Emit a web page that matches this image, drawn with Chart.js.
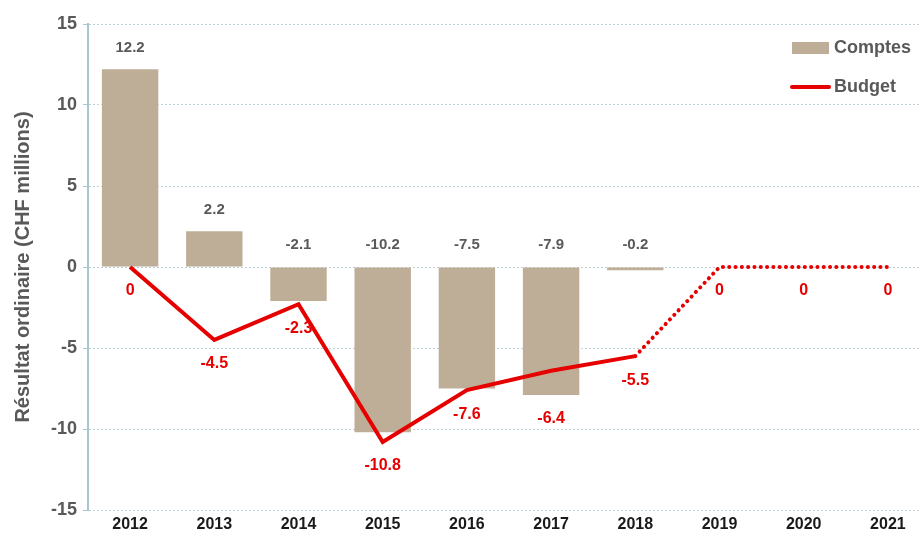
<!DOCTYPE html>
<html>
<head>
<meta charset="utf-8">
<script src="https://cdn.jsdelivr.net/npm/chart.js@4/dist/chart.umd.min.js"></script>
<style>
  html, body { margin: 0; padding: 0; background: #fff; overflow: hidden; }
  #wrap { width: 930px; height: 538px; }
</style>
</head>
<body>
<div id="wrap"><canvas id="chart" width="930" height="538"></canvas></div>
<script>
const years = ['2012', '2013', '2014', '2015', '2016', '2017', '2018', '2019', '2020', '2021'];
const comptes = [12.2, 2.2, -2.1, -10.2, -7.5, -7.9, -0.2, null, null, null];
const budget = [0, -4.5, -2.3, -10.8, -7.6, -6.4, -5.5, 0, 0, 0];
const yTicks = [-15, -10, -5, 0, 5, 10, 15];

const tan = '#bfae97';
const red = '#e60000';
const grey = '#595959';
const axisBlue = '#a9c5d0';
const font = '"Liberation Sans", Arial, sans-serif';

// etiquettes des valeurs (barres en gris, budget en rouge)
const labelsPlugin = {
    id: 'valueLabels',
    afterDatasetsDraw(chart) {
        const ctx = chart.ctx;
        const y = chart.scales.y;
        ctx.save();
        ctx.textAlign = 'center';
        ctx.textBaseline = 'middle';

        ctx.font = 'bold 15px ' + font;
        ctx.fillStyle = grey;
        chart.getDatasetMeta(0).data.forEach((bar, i) => {
            const v = comptes[i];
            if (v === null) return;
            const top = y.getPixelForValue(Math.max(v, 0));
            ctx.fillText(v.toFixed(1), bar.x, top - 22);
        });

        // sous le point ou sous la barre, selon ce qui descend le plus bas
        ctx.font = 'bold 16px ' + font;
        ctx.fillStyle = red;
        chart.getDatasetMeta(1).data.forEach((pt, i) => {
            const v = budget[i];
            const c = comptes[i] === null ? 0 : Math.min(comptes[i], 0);
            const low = y.getPixelForValue(Math.min(v, c));
            ctx.fillText(v === 0 ? '0' : v.toFixed(1), pt.x, low + 24);
        });
        ctx.restore();
    }
};

// légende en haut à droite
const legendPlugin = {
    id: 'cornerLegend',
    afterDraw(chart) {
        const ctx = chart.ctx;
        ctx.save();
        ctx.fillStyle = tan;
        ctx.fillRect(792, 42, 37, 12);
        ctx.strokeStyle = red;
        ctx.lineWidth = 4;
        ctx.lineCap = 'round';
        ctx.beginPath();
        ctx.moveTo(792, 87);
        ctx.lineTo(829, 87);
        ctx.stroke();
        ctx.font = 'bold 18px ' + font;
        ctx.fillStyle = grey;
        ctx.textAlign = 'left';
        ctx.textBaseline = 'middle';
        ctx.fillText('Comptes', 834, 48);
        ctx.fillText('Budget', 834, 87);
        ctx.restore();
    }
};

new Chart(document.getElementById('chart'), {
    data: {
        labels: years,
        datasets: [
            {
                type: 'bar',
                label: 'Comptes',
                data: comptes,
                backgroundColor: tan,
                barPercentage: 0.67,
                categoryPercentage: 1,
                order: 2
            },
            {
                type: 'line',
                label: 'Budget',
                data: budget,
                borderColor: red,
                borderWidth: 4,
                pointRadius: 0,
                tension: 0,
                borderJoinStyle: 'miter',
                order: 1,
                segment: {
                    borderDash: c => c.p0DataIndex >= 6 ? [0.1, 6.2] : undefined,
                    borderCapStyle: c => c.p0DataIndex >= 6 ? 'round' : 'butt'
                }
            }
        ]
    },
    options: {
        responsive: false,
        animation: false,
        layout: { padding: { top: 24, right: 0, left: 0, bottom: 0 } },
        plugins: {
            legend: { display: false },
            tooltip: { enabled: false }
        },
        scales: {
            x: {
                offset: true,
                grid: { display: false, drawTicks: false },
                border: { display: false },
                ticks: {
                    color: '#1a1a1a',
                    font: { family: font, size: 16, weight: 'bold' },
                    padding: 5
                },
                afterFit: s => { s.height = 28; }
            },
            y: {
                min: -15,
                max: 15,
                afterBuildTicks: s => { s.ticks = yTicks.map(v => ({ value: v })); },
                grid: {
                    color: '#bcd3db',
                    lineWidth: 1,
                    tickLength: 5,
                    tickColor: axisBlue,
                    tickBorderDash: [0, 0]
                },
                border: { display: true, color: axisBlue, width: 2, dash: [2, 2] },
                ticks: {
                    color: grey,
                    font: { family: font, size: 18, weight: 'bold' },
                    padding: 6
                },
                title: {
                    display: true,
                    text: 'Résultat ordinaire (CHF millions)',
                    color: grey,
                    font: { family: font, size: 20, weight: 'bold' },
                    padding: { top: 11, bottom: 0 }
                },
                afterFit: s => { s.width = 88; }
            }
        }
    },
    plugins: [labelsPlugin, legendPlugin]
});
</script>
</body>
</html>
